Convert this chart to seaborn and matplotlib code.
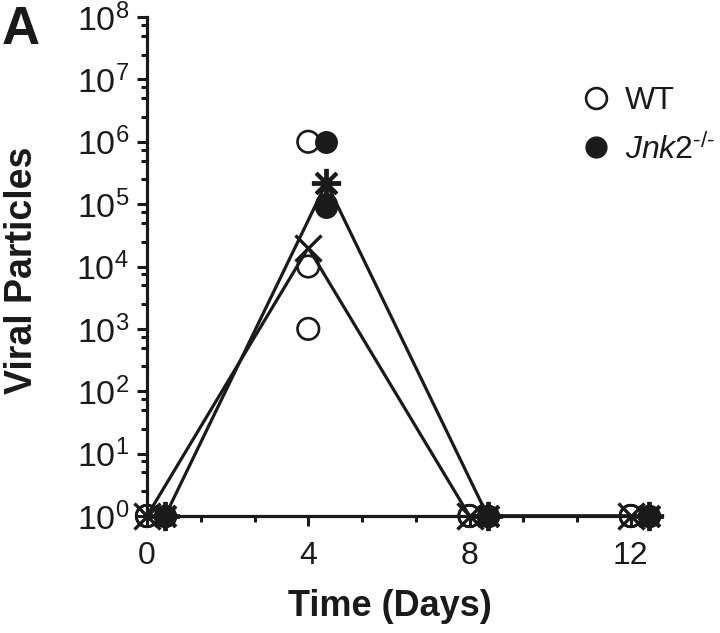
import numpy as np
import pandas as pd
import matplotlib
matplotlib.use("Agg")
import matplotlib.pyplot as plt
import seaborn as sns
from matplotlib.lines import Line2D
from matplotlib.ticker import LogLocator, MultipleLocator, NullFormatter

# ---------------- data ----------------
days = [0, 4, 8, 12]
wt_point_days = [0, 0, 0, 4, 4, 4, 8, 8, 8, 12, 12, 12]
wt_points = [1, 1, 1, 1e6, 1e4, 1e3, 1, 1, 1, 1, 1, 1]
jnk_point_days = [0, 0, 0, 4, 4, 4, 8, 8, 8, 12, 12, 12]
jnk_points = [1, 1, 1, 1e6, 1e5, 9e4, 1, 1, 1, 1, 1, 1]
wt_mean = [1, 2e4, 1, 1]
jnk_mean = [1, 2.2e5, 1, 1]
x_ticks = [0, 4, 8, 12]
legend_labels = ["WT", r"$\mathit{Jnk2}^{\text{-/-}}$"]

jnk_offset = 0.45  # horizontal dodge of the Jnk2 series

sns.set_theme(style="ticks")
plt.rcParams["font.family"] = ["Liberation Sans", "DejaVu Sans"]
plt.rcParams["mathtext.fontset"] = "custom"
plt.rcParams["mathtext.rm"] = "Liberation Sans"
plt.rcParams["mathtext.it"] = "Liberation Sans:italic"
plt.rcParams["mathtext.bf"] = "Liberation Sans:bold"
for key in ["text.color", "axes.labelcolor", "xtick.color", "ytick.color",
            "axes.edgecolor"]:
    plt.rcParams[key] = "black"

fig = plt.figure(figsize=(7.2, 6.33), dpi=100)
ax = fig.add_axes([147 / 720, 117 / 633, 508 / 720, 499 / 633])

wt_df = pd.DataFrame({"day": wt_point_days, "val": wt_points})
jnk_df = pd.DataFrame({"day": np.array(jnk_point_days) + jnk_offset, "val": jnk_points})
wt_mean_df = pd.DataFrame({"day": days, "val": wt_mean})
jnk_mean_df = pd.DataFrame({"day": np.array(days) + jnk_offset, "val": jnk_mean})

lw = 2.3
sns.lineplot(data=wt_mean_df, x="day", y="val", ax=ax, color="k", lw=lw,
             marker="x", markersize=19, markeredgewidth=2.4,
             markeredgecolor="k", clip_on=False, zorder=3)
sns.lineplot(data=jnk_mean_df, x="day", y="val", ax=ax, color="k", lw=lw,
             marker=(8, 2, 0), markersize=21, markeredgewidth=2.8,
             markeredgecolor="k", clip_on=False, zorder=3)
sns.scatterplot(data=wt_df, x="day", y="val", ax=ax, marker="o", s=240,
                color="k", facecolor="none", edgecolor="k", linewidth=1.9,
                clip_on=False, zorder=4)
sns.scatterplot(data=jnk_df, x="day", y="val", ax=ax, marker="o", s=240,
                color="k", facecolor="k", edgecolor="k", linewidth=1.0,
                clip_on=False, zorder=4)

ax.set_yscale("log")
ax.set_ylim(1, 1e8)
ax.set_xlim(0, 12.6)
ax.yaxis.set_major_locator(LogLocator(base=10, numticks=20))
ax.yaxis.set_minor_locator(LogLocator(base=10, subs=[2.5, 5, 7.5], numticks=20))
ax.yaxis.set_minor_formatter(NullFormatter())
ax.set_xticks(x_ticks)
ax.xaxis.set_minor_locator(MultipleLocator(4 / 3))

for s in ["top", "right"]:
    ax.spines[s].set_visible(False)
for s in ["left", "bottom"]:
    ax.spines[s].set_linewidth(2.3)
    ax.spines[s].set_color("k")

ax.tick_params(axis="both", which="major", direction="out", length=7, width=2.2,
               color="k", labelcolor="k")
ax.tick_params(axis="both", which="minor", direction="out", length=4.5, width=2.2,
               color="k")
ax.tick_params(axis="x", labelsize=23, pad=11)
ax.tick_params(axis="y", labelsize=24.5, pad=6)

ax.set_xlabel("Time (Days)", fontsize=26, fontweight="bold", va="center", color="k")
ax.xaxis.set_label_coords(0.478, -0.182)
ax.set_ylabel("Viral Particles", fontsize=27, fontweight="bold", va="center", color="k")
ax.yaxis.set_label_coords(-0.246, 0.493)

handles = [
    Line2D([], [], ls="none", marker="o", markersize=15, markerfacecolor="none",
           markeredgecolor="k", markeredgewidth=1.9),
    Line2D([], [], ls="none", marker="o", markersize=15, markerfacecolor="k",
           markeredgecolor="k"),
]
ax.legend(handles, legend_labels, loc="upper left",
          bbox_to_anchor=(580 / 720, 1 - 86 / 633), bbox_transform=fig.transFigure,
          frameon=False, fontsize=23, handlelength=1.0, handletextpad=0.4,
          labelspacing=0.55, borderpad=0, borderaxespad=0, labelcolor="k")

fig.text(0.002, 1 - 5 / 633, "A", fontsize=38, fontweight="bold", va="top",
         ha="left", color="k")

fig.savefig("out.png", dpi=100)
